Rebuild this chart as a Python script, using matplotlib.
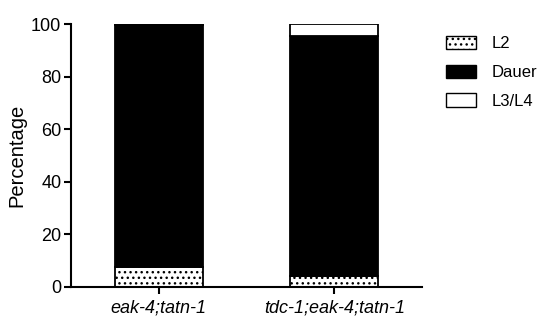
import numpy as np
import matplotlib.pyplot as plt
from matplotlib.patches import Patch

plt.rcParams['font.family'] = ['Liberation Sans', 'DejaVu Sans']

strains = ["eak-4;tatn-1", "tdc-1;eak-4;tatn-1"]
l2 = [7.5, 4.3]
dauer = [92.0, 91.1]
l3l4 = [0.5, 4.6]

fig = plt.figure(figsize=(5.4, 3.21), dpi=100)
ax = fig.add_axes([0.1315, 0.106, 0.65, 0.819])

x = np.arange(len(strains))
w = 0.5
lw = 1.3
ax.bar(x, l2, w, color="white", edgecolor="black", hatch="...", linewidth=lw)
ax.bar(x, dauer, w, bottom=l2, color="black", edgecolor="black", linewidth=lw)
ax.bar(x, l3l4, w, bottom=np.array(l2) + np.array(dauer), color="white",
       edgecolor="black", linewidth=lw)

ax.set_xlim(-0.5, 1.5)
ax.set_ylim(0, 100)
ax.set_yticks([0, 20, 40, 60, 80, 100])
ax.set_xticks(x)
ax.set_xticklabels(strains, style="italic", fontsize=13)
ax.tick_params(axis="y", labelsize=13, length=5, width=1.5, pad=2)
ax.tick_params(axis="x", length=5, width=1.5, pad=4)
ax.set_ylabel("Percentage", fontsize=14.5, labelpad=3)
for s in ["top", "right"]:
    ax.spines[s].set_visible(False)
for s in ["left", "bottom"]:
    ax.spines[s].set_linewidth(1.5)

handles = [
    Patch(facecolor="white", edgecolor="black", hatch="...", label="L2"),
    Patch(facecolor="black", edgecolor="black", label="Dauer"),
    Patch(facecolor="white", edgecolor="black", label="L3/L4"),
]
ax.legend(handles=handles, loc="upper left", bbox_to_anchor=(1.05, 0.98),
          frameon=False, fontsize=12, handlelength=1.8, handleheight=0.85,
          labelspacing=0.8, handletextpad=0.9, borderaxespad=0)

fig.savefig("out.png", dpi=100)
